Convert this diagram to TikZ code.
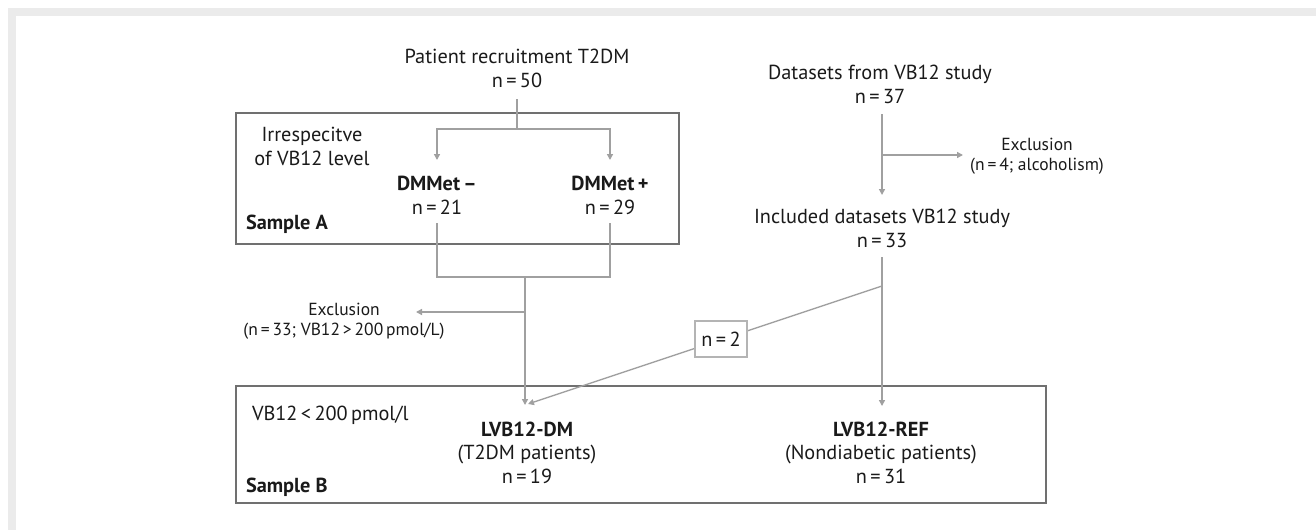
\documentclass[tikz,border=0pt]{standalone}
\usepackage{fontspec}
\setmainfont{PT Sans}
\usetikzlibrary{arrows.meta}
\definecolor{framegray}{HTML}{EBEBEB}
\definecolor{boxline}{HTML}{707070}
\definecolor{connc}{HTML}{A0A0A0}
\definecolor{smallbox}{HTML}{B4B4B4}
\definecolor{txt}{HTML}{1A1A1A}
\begin{document}
\begin{tikzpicture}[x=1pt,y=-1pt,
  every node/.style={inner sep=0pt, outer sep=0pt, text=txt},
  maintext/.style={font=\fontsize{20.3}{23.5}\selectfont, align=center, anchor=base},
  smalltext/.style={font=\fontsize{17.5}{20}\selectfont, align=center, anchor=base},
  lefttext/.style={font=\fontsize{20.3}{23.5}\selectfont, anchor=base west},
  groupbox/.style={draw=boxline, line width=2pt},
  connline/.style={draw=connc, line width=1.4pt},
  arrline/.style={connline, -{Triangle[length=6pt,width=6pt]}},
]
\useasboundingbox (0,0) rectangle (1316,530);
\fill[white] (0,0) rectangle (1316,530);
\fill[framegray] (8,8) rectangle (1316,16);
\fill[framegray] (8,8) rectangle (16,530);

% group boxes
\draw[groupbox] (236,113) rectangle (679,244);
\draw[groupbox] (236,386) rectangle (1046,503);

% text nodes (base = baseline of last line)
\node[maintext] (pr) at (517,87) {Patient recruitment T2DM\\n\,=\,50};
\node[maintext] (ds) at (880,103) {Datasets from VB12 study\\n\,=\,37};
\node[maintext] (irr) at (312,165) {Irrespecitve\\of VB12 level};
\node[maintext] (dmm) at (437,214) {\textbf{DMMet\,–}\\n\,=\,21};
\node[maintext] (dmp) at (610,214) {\textbf{DMMet\,+}\\n\,=\,29};
\node[lefttext] (sa) at (246,229) {\textbf{Sample A}};
\node[smalltext] (ex1) at (1037,170) {Exclusion\\(n\,=\,4; alcoholism)};
\node[maintext] (inc) at (882,247) {Included datasets VB12 study\\n\,=\,33};
\node[smalltext] (ex2) at (344,335) {Exclusion\\(n\,=\,33; VB12\,>\,200\,pmol/L)};
\node[lefttext] (vb) at (252,420) {VB12\,<\,200\,pmol/l};
\node[maintext] (ldm) at (527,483) {\textbf{LVB12-DM}\\(T2DM patients)\\n\,=\,19};
\node[maintext] (lref) at (881,483) {\textbf{LVB12-REF}\\(Nondiabetic patients)\\n\,=\,31};
\node[lefttext] (sb) at (246,492) {\textbf{Sample B}};

% junction coordinates
\coordinate (prb) at (517,99);
\coordinate (j1) at (517,129);
\coordinate (j1l) at (437,129);
\coordinate (j1r) at (610,129);
\coordinate (dmmt) at (437,160);
\coordinate (dmpt) at (610,160);
\coordinate (dmmb) at (437,223);
\coordinate (dmpb) at (610,223);
\coordinate (j2l) at (437,277);
\coordinate (j2r) at (610,277);
\coordinate (j2) at (525,277);
\coordinate (j3) at (525,312);
\coordinate (ex2t) at (416,312);
\coordinate (ldmt) at (525,405);
\coordinate (dsb) at (882,114);
\coordinate (j4) at (882,155);
\coordinate (ex1t) at (963,155);
\coordinate (inct) at (882,195);
\coordinate (incb) at (882,257);
\coordinate (j5) at (882,286);
\coordinate (lreft) at (882,406);
\coordinate (ldmd) at (528,404);

% connectors
\draw[connline] (prb) -- (j1);
\draw[arrline] (j1) -- (j1l) -- (dmmt);
\draw[arrline] (j1) -- (j1r) -- (dmpt);
\draw[connline] (dmmb) -- (j2l) -- (j2r) -- (dmpb);
\draw[arrline] (j2) -- (ldmt);
\draw[arrline] (j3) -- (ex2t);
\draw[arrline] (dsb) -- (inct);
\draw[arrline] (j4) -- (ex1t);
\draw[arrline] (incb) -- (lreft);
\draw[arrline] (j5) -- (ldmd);
\node[draw=smallbox, line width=1.2pt, fill=white, minimum width=52pt, minimum height=36pt, font=\fontsize{20.3}{23.5}\selectfont] (n2) at (721,339) {n\,=\,2};
\end{tikzpicture}
\end{document}
